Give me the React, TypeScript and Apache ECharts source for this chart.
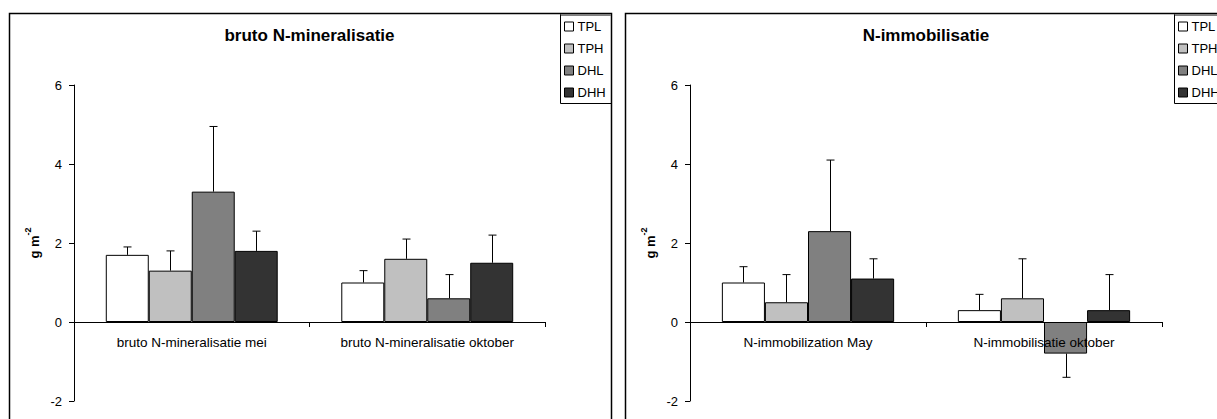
import React, { useEffect, useRef } from "react";
import * as echarts from "echarts";

const seriesNames = ["TPL", "TPH", "DHL", "DHH"];
const seriesColors = ["#ffffff", "#c0c0c0", "#808080", "#333333"];

const mineralCategories = ["bruto N-mineralisatie mei", "bruto N-mineralisatie oktober"];
const mineralTPL = [1.7, 1.0];
const mineralTPH = [1.3, 1.6];
const mineralDHL = [3.3, 0.6];
const mineralDHH = [1.8, 1.5];
const mineralErrTPL = [1.9, 1.3];
const mineralErrTPH = [1.8, 2.1];
const mineralErrDHL = [4.95, 1.2];
const mineralErrDHH = [2.3, 2.2];

const immobCategories = ["N-immobilization May", "N-immobilisatie oktober"];
const immobTPL = [1.0, 0.3];
const immobTPH = [0.5, 0.6];
const immobDHL = [2.3, -0.8];
const immobDHH = [1.1, 0.3];
const immobErrTPL = [1.4, 0.7];
const immobErrTPH = [1.2, 1.6];
const immobErrDHL = [4.1, -1.4];
const immobErrDHH = [1.6, 1.2];

const yTicks = [-2, 0, 2, 4, 6];

const GAP = 0.27;
const FONT = "Liberation Sans, Arial, sans-serif";
const GRID_TOP = 85;
const GRID_H = 316;

function buildChart(gi: number, values: number[][], errs: number[][]) {
  const bars = values.map((vals, si) => ({
    type: "bar",
    name: seriesNames[si],
    xAxisIndex: gi,
    yAxisIndex: gi,
    data: vals,
    barGap: "0%",
    barCategoryGap: GAP * 100 + "%",
    itemStyle: { color: seriesColors[si], borderColor: "#000", borderWidth: 1 },
    emphasis: { disabled: true },
  }));
  const errData: number[][] = [];
  values.forEach((vals, si) => {
    vals.forEach((v, ci) => {
      errData.push([ci, si, v, errs[si][ci]]);
    });
  });
  const errSeries = {
    type: "custom",
    xAxisIndex: gi,
    yAxisIndex: gi,
    z: 5,
    silent: true,
    data: errData,
    encode: { x: 0, y: 3 },
    renderItem: (params: any, api: any) => {
      const cat = api.value(0);
      const idx = api.value(1);
      const v = api.value(2);
      const e = api.value(3);
      const band = api.size([1, 0])[0];
      const total = band * (1 - GAP);
      const w = total / 4;
      const base = api.coord([cat, v]);
      const x = Math.round(base[0] - total / 2 + w * (idx + 0.5)) + 0.5;
      const yv = base[1];
      const ye = api.coord([cat, e])[1];
      return {
        type: "group",
        children: [
          { type: "line", shape: { x1: x, y1: yv, x2: x, y2: ye }, style: { stroke: "#000", lineWidth: 1 } },
          { type: "line", shape: { x1: x - 4, y1: ye, x2: x + 4, y2: ye }, style: { stroke: "#000", lineWidth: 1 } },
        ],
      };
    },
  };
  return [...bars, errSeries];
}

export default function App() {
  const ref = useRef<HTMLDivElement>(null);
  useEffect(() => {
    if (!ref.current) return;
    const chart = echarts.init(ref.current, null, { renderer: "svg" });
    const yMin = yTicks[0];
    const yMax = yTicks[yTicks.length - 1];
    const zeroOffset = -GRID_H * (0 - yMin) / (yMax - yMin);
    const grids = [
      { left: 74, top: GRID_TOP, width: 471, height: GRID_H, outerBoundsMode: "none", containLabel: false },
      { left: 690, top: GRID_TOP, width: 472, height: GRID_H, outerBoundsMode: "none", containLabel: false },
    ];
    const xAxis = [mineralCategories, immobCategories].map((cats, i) => ({
      type: "category",
      gridIndex: i,
      data: cats,
      position: "bottom",
      offset: zeroOffset,
      z: 3,
      axisLine: { onZero: false, lineStyle: { color: "#000", width: 1 } },
      axisTick: { show: true, length: 5, alignWithLabel: false, lineStyle: { color: "#000" } },
      axisLabel: { color: "#000", fontSize: 13.5, fontFamily: FONT, margin: 13, interval: 0 },
      splitLine: { show: false },
    }));
    const yAxis = [0, 1].map((i) => ({
      type: "value",
      gridIndex: i,
      min: yMin,
      max: yMax,
      interval: 2,
      axisLine: { show: true, onZero: false, lineStyle: { color: "#000", width: 1 } },
      axisTick: { show: true, length: 5, lineStyle: { color: "#000" } },
      axisLabel: { color: "#000", fontSize: 13, fontFamily: FONT, margin: 12 },
      splitLine: { show: false },
      name: "{a|g m}{b|-2}",
      nameLocation: "middle",
      nameGap: 33,
      nameTextStyle: {
        rich: {
          a: { fontSize: 13, fontWeight: "bold", fontFamily: FONT, color: "#000", lineHeight: 18, verticalAlign: "bottom" },
          b: { fontSize: 9, fontWeight: "bold", fontFamily: FONT, color: "#000", lineHeight: 18, verticalAlign: "top" },
        },
      },
    }));
    const legendCommon = {
      orient: "vertical",
      data: seriesNames,
      padding: 0,
      itemWidth: 9,
      itemHeight: 9,
      itemGap: 9,
      icon: "rect",
      selectedMode: false,
      itemStyle: { borderColor: "#000", borderWidth: 1 },
      textStyle: { color: "#000", fontSize: 13, fontFamily: FONT, lineHeight: 13, padding: [0, 0, 0, -1] },
    };
    chart.setOption({
      animation: false,
      backgroundColor: "#ffffff",
      title: [
        {
          text: "bruto N-mineralisatie",
          left: 74 + 471 / 2,
          textAlign: "center",
          top: 27,
          padding: 0,
          textStyle: { fontSize: 17, fontWeight: "bold", fontFamily: FONT, color: "#000" },
        },
        {
          text: "N-immobilisatie",
          left: 690 + 472 / 2,
          textAlign: "center",
          top: 27,
          padding: 0,
          textStyle: { fontSize: 17, fontWeight: "bold", fontFamily: FONT, color: "#000" },
        },
      ],
      legend: [
        { ...legendCommon, left: 564, top: 20 },
        { ...legendCommon, left: 1178, top: 20 },
      ],
      grid: grids,
      xAxis,
      yAxis,
      graphic: [
        { type: "rect", shape: { x: 9.5, y: 13.5, width: 602, height: 420 }, style: { fill: "none", stroke: "#000", lineWidth: 1.5 }, z: 10, silent: true },
        { type: "rect", shape: { x: 625.5, y: 13.5, width: 620, height: 420 }, style: { fill: "none", stroke: "#000", lineWidth: 1.5 }, z: 10, silent: true },
        { type: "rect", shape: { x: 560.5, y: 14.5, width: 51, height: 89 }, style: { fill: "none", stroke: "#000", lineWidth: 1 }, z: 10, silent: true },
        { type: "line", shape: { x1: 561, y1: 15, x2: 611, y2: 15 }, style: { stroke: "#808080", lineWidth: 2 }, z: 11, silent: true },
        { type: "rect", shape: { x: 1174.5, y: 14.5, width: 60, height: 89 }, style: { fill: "none", stroke: "#000", lineWidth: 1 }, z: 10, silent: true },
        { type: "line", shape: { x1: 1175, y1: 15, x2: 1217, y2: 15 }, style: { stroke: "#808080", lineWidth: 2 }, z: 11, silent: true },
      ],
      series: [
        ...buildChart(0, [mineralTPL, mineralTPH, mineralDHL, mineralDHH], [mineralErrTPL, mineralErrTPH, mineralErrDHL, mineralErrDHH]),
        ...buildChart(1, [immobTPL, immobTPH, immobDHL, immobDHH], [immobErrTPL, immobErrTPH, immobErrDHL, immobErrDHH]),
      ],
    });
    return () => chart.dispose();
  }, []);
  return (
    <div
      ref={ref}
      style={{ position: "fixed", left: 0, top: 0, width: 1217, height: 419, background: "#fff" }}
    />
  );
}
